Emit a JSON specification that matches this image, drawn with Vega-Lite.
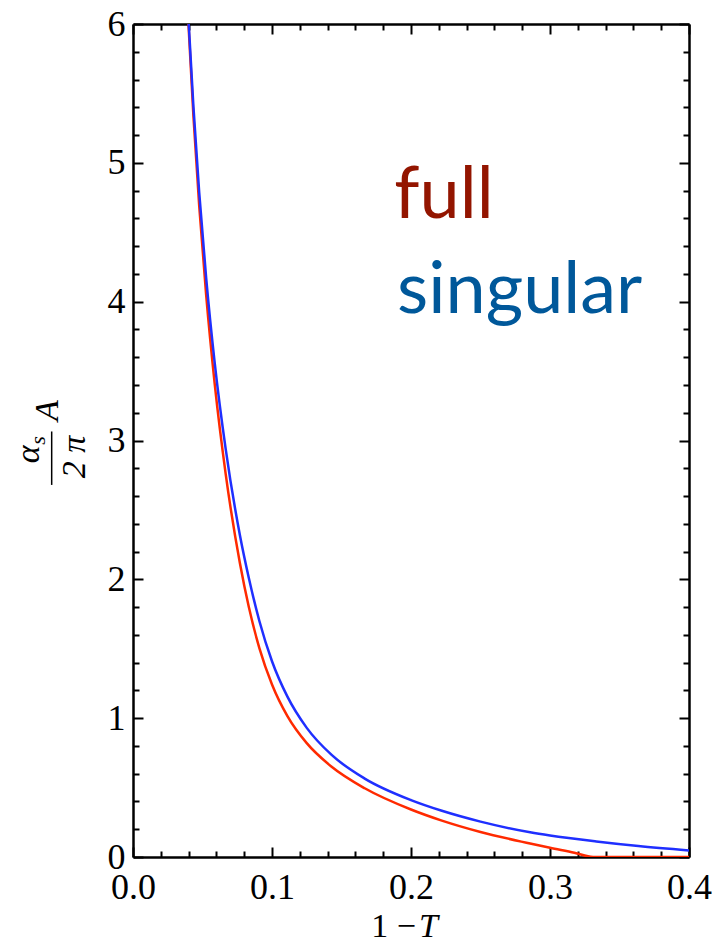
{
  "$schema": "https://vega.github.io/schema/vega-lite/v6.json",
  "width": 556,
  "height": 833,
  "autosize": "none",
  "padding": {"left": 133, "top": 24, "right": 23, "bottom": 88},
  "config": {
    "view": {"stroke": null},
    "font": "Liberation Serif",
    "axis": {
      "domainColor": "black",
      "domainWidth": 2.5,
      "tickColor": "black",
      "tickWidth": 2,
      "grid": false,
      "labelFont": "Liberation Serif",
      "labelFontSize": 36,
      "labelColor": "black",
      "title": null
    }
  },
  "datasets": {
    "curves": [
      {"series": "full", "x": 0.0399, "y": 6.0},
      {"series": "full", "x": 0.04348, "y": 5.336},
      {"series": "full", "x": 0.04762, "y": 4.692},
      {"series": "full", "x": 0.05263, "y": 4.048},
      {"series": "full", "x": 0.05882, "y": 3.404},
      {"series": "full", "x": 0.06667, "y": 2.76},
      {"series": "full", "x": 0.07692, "y": 2.116},
      {"series": "full", "x": 0.08333, "y": 1.8},
      {"series": "full", "x": 0.09091, "y": 1.505},
      {"series": "full", "x": 0.1, "y": 1.243},
      {"series": "full", "x": 0.1111, "y": 1.015},
      {"series": "full", "x": 0.125, "y": 0.82},
      {"series": "full", "x": 0.1429, "y": 0.65},
      {"series": "full", "x": 0.1667, "y": 0.495},
      {"series": "full", "x": 0.2, "y": 0.342},
      {"series": "full", "x": 0.2222, "y": 0.262},
      {"series": "full", "x": 0.25, "y": 0.18},
      {"series": "full", "x": 0.2857, "y": 0.097},
      {"series": "full", "x": 0.3, "y": 0.066},
      {"series": "full", "x": 0.3175, "y": 0.031},
      {"series": "full", "x": 0.331, "y": 0.0},
      {"series": "full", "x": 0.36, "y": 0.0},
      {"series": "full", "x": 0.4, "y": 0.0},
      {"series": "singular", "x": 0.0401, "y": 6.0},
      {"series": "singular", "x": 0.04348, "y": 5.404},
      {"series": "singular", "x": 0.04762, "y": 4.788},
      {"series": "singular", "x": 0.05263, "y": 4.172},
      {"series": "singular", "x": 0.05882, "y": 3.556},
      {"series": "singular", "x": 0.06667, "y": 2.94},
      {"series": "singular", "x": 0.07692, "y": 2.318},
      {"series": "singular", "x": 0.08333, "y": 2.01},
      {"series": "singular", "x": 0.09091, "y": 1.7},
      {"series": "singular", "x": 0.1, "y": 1.41},
      {"series": "singular", "x": 0.1111, "y": 1.155},
      {"series": "singular", "x": 0.125, "y": 0.93},
      {"series": "singular", "x": 0.1429, "y": 0.735},
      {"series": "singular", "x": 0.1667, "y": 0.565},
      {"series": "singular", "x": 0.2, "y": 0.41},
      {"series": "singular", "x": 0.2222, "y": 0.333},
      {"series": "singular", "x": 0.25, "y": 0.255},
      {"series": "singular", "x": 0.2857, "y": 0.178},
      {"series": "singular", "x": 0.3, "y": 0.155},
      {"series": "singular", "x": 0.3333, "y": 0.112},
      {"series": "singular", "x": 0.3636, "y": 0.079},
      {"series": "singular", "x": 0.4, "y": 0.047}
    ]
  },
  "layer": [
    {
      "data": {"name": "curves"},
      "mark": {"type": "line", "strokeWidth": 2.5, "interpolate": "monotone", "clip": true},
      "encoding": {
        "x": {
          "field": "x", "type": "quantitative",
          "scale": {"domain": [0, 0.4], "nice": false, "zero": false},
          "axis": {
            "orient": "bottom",
            "values": [0, 0.02, 0.04, 0.06, 0.08, 0.1, 0.12, 0.14, 0.16, 0.18, 0.2, 0.22, 0.24, 0.26, 0.28, 0.3, 0.32, 0.34, 0.36, 0.38, 0.4],
            "tickSize": {"condition": {"test": "abs(datum.value * 10 - round(datum.value * 10)) < 1e-6", "value": -10}, "value": -6},
            "labelExpr": "abs(datum.value * 10 - round(datum.value * 10)) < 1e-6 ? format(datum.value, '.1f') : ''",
            "labelPadding": 23,
            "labelFlush": false,
            "labelOverlap": false
          }
        },
        "y": {
          "field": "y", "type": "quantitative",
          "scale": {"domain": [0, 6], "nice": false, "zero": false},
          "axis": {
            "orient": "left",
            "values": [0, 0.2, 0.4, 0.6, 0.8, 1, 1.2, 1.4, 1.6, 1.8, 2, 2.2, 2.4, 2.6, 2.8, 3, 3.2, 3.4, 3.6, 3.8, 4, 4.2, 4.4, 4.6, 4.8, 5, 5.2, 5.4, 5.6, 5.8, 6],
            "tickSize": {"condition": {"test": "abs(datum.value - round(datum.value)) < 1e-6", "value": -10}, "value": -6},
            "labelExpr": "abs(datum.value - round(datum.value)) < 1e-6 ? format(datum.value, 'd') : ''",
            "labelPadding": 18,
            "labelFlush": false,
            "labelOverlap": false
          }
        },
        "color": {
          "field": "series", "type": "nominal",
          "scale": {"domain": ["full", "singular"], "range": ["#ff2a00", "#1f2fff"]},
          "legend": null
        }
      }
    },
    {
      "data": {"values": [{}]},
      "mark": {"type": "text", "text": "full", "font": "Lato", "fontSize": 72, "color": "#931500", "align": "left", "baseline": "alphabetic"},
      "encoding": {
        "x": {
          "datum": 0.188, "type": "quantitative",
          "axis": {
            "orient": "top",
            "values": [0, 0.02, 0.04, 0.06, 0.08, 0.1, 0.12, 0.14, 0.16, 0.18, 0.2, 0.22, 0.24, 0.26, 0.28, 0.3, 0.32, 0.34, 0.36, 0.38, 0.4],
            "tickSize": {"condition": {"test": "abs(datum.value * 10 - round(datum.value * 10)) < 1e-6", "value": -10}, "value": -6},
            "labels": false
          }
        },
        "y": {
          "datum": 4.604, "type": "quantitative",
          "axis": {
            "orient": "right",
            "values": [0, 0.2, 0.4, 0.6, 0.8, 1, 1.2, 1.4, 1.6, 1.8, 2, 2.2, 2.4, 2.6, 2.8, 3, 3.2, 3.4, 3.6, 3.8, 4, 4.2, 4.4, 4.6, 4.8, 5, 5.2, 5.4, 5.6, 5.8, 6],
            "tickSize": {"condition": {"test": "abs(datum.value - round(datum.value)) < 1e-6", "value": -10}, "value": -6},
            "labels": false
          }
        }
      }
    },
    {
      "data": {"values": [{}]},
      "mark": {"type": "text", "text": "singular", "font": "Lato", "fontSize": 72, "color": "#00589a", "align": "left", "baseline": "alphabetic"},
      "encoding": {
        "x": {"datum": 0.19, "type": "quantitative", "axis": null},
        "y": {"datum": 3.919, "type": "quantitative", "axis": null}
      }
    },
    {
      "data": {"values": [{}]},
      "mark": {"type": "text", "text": "α", "font": "Liberation Serif", "fontStyle": "italic", "fontSize": 34, "color": "black", "angle": 270, "align": "center", "baseline": "middle"},
      "encoding": {
        "x": {"datum": -0.075, "type": "quantitative", "axis": null},
        "y": {"datum": 2.9, "type": "quantitative", "axis": null}
      }
    },
    {
      "data": {"values": [{}]},
      "mark": {"type": "text", "text": "s", "font": "Liberation Serif", "fontStyle": "italic", "fontSize": 22, "color": "black", "angle": 270, "align": "center", "baseline": "middle"},
      "encoding": {
        "x": {"datum": -0.0685, "type": "quantitative", "axis": null},
        "y": {"datum": 3.0, "type": "quantitative", "axis": null}
      }
    },
    {
      "data": {"values": [{}]},
      "mark": {"type": "text", "text": "2 π", "font": "Liberation Serif", "fontStyle": "italic", "fontSize": 34, "color": "black", "angle": 270, "align": "center", "baseline": "middle"},
      "encoding": {
        "x": {"datum": -0.0419, "type": "quantitative", "axis": null},
        "y": {"datum": 2.882, "type": "quantitative", "axis": null}
      }
    },
    {
      "data": {"values": [{}]},
      "mark": {"type": "rule", "color": "black", "strokeWidth": 1.5},
      "encoding": {
        "x": {"datum": -0.0585, "type": "quantitative", "axis": null},
        "y": {"datum": 3.065, "type": "quantitative", "axis": null},
        "y2": {"datum": 2.68}
      }
    },
    {
      "data": {"values": [{}]},
      "mark": {"type": "text", "text": "A", "font": "Liberation Serif", "fontStyle": "italic", "fontSize": 34, "color": "black", "angle": 270, "align": "center", "baseline": "middle"},
      "encoding": {
        "x": {"datum": -0.0614, "type": "quantitative", "axis": null},
        "y": {"datum": 3.215, "type": "quantitative", "axis": null}
      }
    },
    {
      "data": {"values": [{}]},
      "mark": {"type": "text", "text": "1 −", "font": "Liberation Serif", "fontSize": 34, "color": "black", "align": "right", "baseline": "alphabetic"},
      "encoding": {
        "x": {"datum": 0.2035, "type": "quantitative", "axis": null},
        "y": {"datum": -0.575, "type": "quantitative", "axis": null}
      }
    },
    {
      "data": {"values": [{}]},
      "mark": {"type": "text", "text": "T", "font": "Liberation Serif", "fontStyle": "italic", "fontSize": 34, "color": "black", "align": "left", "baseline": "alphabetic"},
      "encoding": {
        "x": {"datum": 0.2058, "type": "quantitative", "axis": null},
        "y": {"datum": -0.575, "type": "quantitative", "axis": null}
      }
    }
  ],
  "resolve": {"axis": {"x": "independent", "y": "independent"}}
}
